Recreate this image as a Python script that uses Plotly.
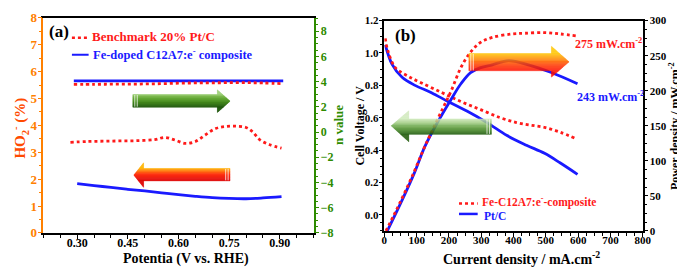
import plotly.graph_objects as go

W, H = 685, 267

# ---------------- data: panel (a) ----------------
pot_n = [0.29, 0.35, 0.40, 0.45, 0.50, 0.55, 0.60, 0.65, 0.70, 0.75, 0.80, 0.85, 0.91]
n_fe = [4.07, 4.07, 4.07, 4.07, 4.07, 4.07, 4.07, 4.07, 4.07, 4.07, 4.07, 4.07, 4.07]
n_pt = [3.78, 3.79, 3.80, 3.80, 3.82, 3.84, 3.88, 3.90, 3.91, 3.92, 3.92, 3.90, 3.84]

pot_ho2_pt = [0.28, 0.33, 0.38, 0.43, 0.48, 0.53, 0.56, 0.59, 0.62, 0.65, 0.68, 0.71, 0.74,
              0.77, 0.80, 0.82, 0.84, 0.87, 0.905]
ho2_pt = [3.37, 3.40, 3.41, 3.42, 3.43, 3.47, 3.55, 3.45, 3.33, 3.40, 3.65, 3.88, 3.96,
          3.97, 3.92, 3.75, 3.47, 3.28, 3.15]

pot_ho2_fe = [0.30, 0.35, 0.40, 0.45, 0.50, 0.55, 0.60, 0.65, 0.70, 0.75, 0.80, 0.85, 0.905]
ho2_fe = [1.83, 1.76, 1.69, 1.62, 1.56, 1.49, 1.42, 1.36, 1.31, 1.28, 1.27, 1.30, 1.35]

pot_ticks = [0.30, 0.45, 0.60, 0.75, 0.90]

# ---------------- data: panel (b) ----------------
cur_v_pt = [3, 24, 55, 95, 146, 197, 257, 318, 380, 440, 496, 545, 598]
volt_pt = [1.05, 0.93, 0.85, 0.80, 0.755, 0.70, 0.64, 0.57, 0.49, 0.43, 0.38, 0.32, 0.25]

cur_v_fe = [3, 10, 34, 75, 115, 176, 237, 298, 359, 409, 450, 496, 545, 593]
volt_fe = [1.09, 1.02, 0.91, 0.855, 0.815, 0.757, 0.70, 0.65, 0.60, 0.57, 0.555, 0.54, 0.51, 0.47]

cur_p_pt = [9, 55, 94, 125, 166, 207, 237, 267, 298, 334, 385, 446, 517, 598]
pow_pt = [0, 44, 84, 120, 156, 188, 210, 226, 233, 237, 243, 237, 226, 210]

cur_p_fe = [5, 50, 90, 120, 145, 176, 207, 237, 267, 298, 334, 395, 435, 496, 545, 598]
pow_fe = [0, 42, 82, 115, 140, 170, 200, 233, 255, 269, 276, 281, 282, 283, 281, 278]

RED = "#FF1A1A"
BLUE = "#1A1AFF"
ORANGE = "#FF8000"
ORANGE_T = "#FF4A00"
GREEN = "#2E8B00"
FONT = "Liberation Serif"


def px(x):
    return x / W


def py(y):
    return 1 - y / H


fig = go.Figure()

# panel (a)
fig.add_trace(go.Scatter(x=pot_n, y=n_fe, mode="lines", yaxis="y2", xaxis="x",
                         line=dict(color=BLUE, width=2.8), showlegend=False))
fig.add_trace(go.Scatter(x=pot_n, y=n_pt, mode="lines", yaxis="y2", xaxis="x",
                         line=dict(color=RED, width=2.8, dash="dot", shape="spline"), showlegend=False))
fig.add_trace(go.Scatter(x=pot_ho2_pt, y=ho2_pt, mode="lines", yaxis="y", xaxis="x",
                         line=dict(color=RED, width=2.8, dash="dot", shape="spline"), showlegend=False))
fig.add_trace(go.Scatter(x=pot_ho2_fe, y=ho2_fe, mode="lines", yaxis="y", xaxis="x",
                         line=dict(color=BLUE, width=2.8, shape="spline"), showlegend=False))

# panel (b)
fig.add_trace(go.Scatter(x=cur_v_pt, y=volt_pt, mode="lines", xaxis="x2", yaxis="y3",
                         line=dict(color=BLUE, width=2.8, shape="spline"), showlegend=False))
fig.add_trace(go.Scatter(x=cur_p_pt, y=pow_pt, mode="lines", xaxis="x2", yaxis="y4",
                         line=dict(color=BLUE, width=2.8, shape="spline"), showlegend=False))
fig.add_trace(go.Scatter(x=cur_v_fe, y=volt_fe, mode="lines", xaxis="x2", yaxis="y3",
                         line=dict(color=RED, width=2.8, dash="dot", shape="spline"), showlegend=False))
fig.add_trace(go.Scatter(x=cur_p_fe, y=pow_fe, mode="lines", xaxis="x2", yaxis="y4",
                         line=dict(color=RED, width=2.8, dash="dot", shape="spline"), showlegend=False))


def tf(color="black", size=12):
    return dict(family=FONT, size=size, color=color, weight="bold")


common = dict(ticks="outside", ticklen=4, tickwidth=1.2, showline=True, linewidth=1.5,
              showgrid=False, zeroline=False)

fig.update_layout(
    width=W, height=H,
    margin=dict(l=0, r=0, t=0, b=0),
    paper_bgcolor="white", plot_bgcolor="white",
    xaxis=dict(domain=[px(33), px(308)], range=[0.2, 1.0], anchor="y",
               tickvals=pot_ticks, ticktext=["%.2f" % v for v in pot_ticks],
               tickcolor="black", ticklabelstandoff=-6,
               minor=dict(dtick=0.05, tick0=0.2, ticklen=3, tickcolor="black", ticks="outside"),
               linecolor="black", mirror=True, tickfont=tf("black", 12), **common),
    yaxis=dict(domain=[py(231), py(4)], range=[0, 8], anchor="x", dtick=1,
               tickcolor=ORANGE, ticklabelstandoff=-2,
               minor=dict(dtick=0.5, ticklen=3, tickcolor=ORANGE, ticks="outside"),
               linecolor=ORANGE, tickfont=tf(ORANGE, 13), **common),
    yaxis2=dict(overlaying="y", side="right", anchor="x", range=[-8, 9.07], dtick=2,
                tickcolor=GREEN, ticklabelstandoff=-1,
                minor=dict(dtick=0.5, ticklen=3, tickcolor=GREEN, ticks="outside"),
                linecolor=GREEN, tickfont=tf(GREEN, 12), **common),
    xaxis2=dict(domain=[px(380), px(643)], range=[0, 800], anchor="y3", dtick=100,
                tickcolor="black", ticklabelstandoff=-6,
                minor=dict(dtick=25, ticklen=3, tickcolor="black", ticks="outside"),
                linecolor="black", mirror=True, tickfont=tf("black", 11), **common),
    yaxis3=dict(domain=[py(229), py(7)], range=[-0.1, 1.2], anchor="x2", dtick=0.2, tick0=0,
                tickformat=".1f", tickcolor="black", ticklabelstandoff=-2,
                minor=dict(dtick=0.05, tick0=0, ticklen=3, tickcolor="black", ticks="outside"),
                linecolor="black", tickfont=tf("black", 11), **common),
    yaxis4=dict(overlaying="y3", side="right", anchor="x2", range=[0, 300], dtick=50,
                tickcolor="black", ticklabelstandoff=-1,
                minor=dict(dtick=12.5, ticklen=3, tickcolor="black", ticks="outside"),
                linecolor="black", tickfont=tf("black", 11), **common),
)

ann = []


def add_text(text, x, y, size, color="black", angle=0, xanchor="center"):
    ann.append(dict(text=text, x=px(x), y=py(y), xref="paper", yref="paper",
                    showarrow=False, textangle=angle, xanchor=xanchor, yanchor="middle",
                    font=dict(family=FONT, size=size, color=color, weight="bold")))


add_text("(a)", 49, 18, 17)
add_text("(b)", 402, 23, 17)
add_text("Benchmark 20% Pt/C", 80, 24, 13, RED, xanchor="left")
add_text("Fe-doped C12A7:e<sup>-</sup> composite", 81, 42, 12.5, BLUE, xanchor="left")
add_text("Fe-C12A7:e<sup>-</sup>-composite", 477, 198, 11.5, RED, xanchor="left")
add_text("Pt/C", 479, 213, 11.5, BLUE, xanchor="left")
add_text("275 mW.cm<sup>-2</sup>", 572, 31, 12, RED, xanchor="left")
add_text("243 mW.cm<sup>-2</sup>", 574, 87, 12, BLUE, xanchor="left")
add_text("Potentia (V vs. RHE)", 178, 259, 14)
add_text("Current density / mA.cm<sup>-2</sup>", 520, 258, 14)
add_text("HO<sub>2</sub><sup>-</sup> (%)", 9, 120, 15, ORANGE_T, angle=-90)
add_text("n value", 334, 117, 13, GREEN, angle=-90)
add_text("Cell Voltage / V", 355, 118, 12, angle=-90)
add_text("Power density / mW.cm<sup>-2</sup>", 676, 118, 12, angle=-90)
fig.update_layout(annotations=ann)

shapes = []
# legend samples
shapes.append(dict(type="line", xref="paper", yref="paper", x0=px(62), x1=px(78), y0=py(25), y1=py(25),
                   line=dict(color=RED, width=2.5, dash="dot")))
shapes.append(dict(type="line", xref="paper", yref="paper", x0=px(62), x1=px(79), y0=py(43), y1=py(43),
                   line=dict(color=BLUE, width=2)))
shapes.append(dict(type="line", xref="paper", yref="paper", x0=px(456), x1=px(475), y0=py(200), y1=py(200),
                   line=dict(color=RED, width=2.5, dash="dot")))
shapes.append(dict(type="line", xref="paper", yref="paper", x0=px(456), x1=px(475), y0=py(211), y1=py(211),
                   line=dict(color=BLUE, width=2.5)))


def hex2rgb(h):
    h = h.lstrip("#")
    return [int(h[i:i + 2], 16) for i in (0, 2, 4)]


def grad(stops, t):
    t = max(0.0, min(1.0, t))
    for (t0, c0), (t1, c1) in zip(stops[:-1], stops[1:]):
        if t0 <= t <= t1:
            f = 0 if t1 == t0 else (t - t0) / (t1 - t0)
            a, b = hex2rgb(c0), hex2rgb(c1)
            return "rgb(%d,%d,%d)" % tuple(round(a[i] + (b[i] - a[i]) * f) for i in range(3))
    return stops[-1][1]


def arrow(tail, hbase, tip, by0, by1, hy0, hy1, yt, stops, opacity=1.0):
    """Draw arrow in pixel coords as gradient bands. tip may be left or right of tail."""
    right = tip > tail
    edges = set([hy0, hy1, by0, by1, yt])
    n = 40
    for i in range(n + 1):
        edges.add(hy0 + (hy1 - hy0) * i / n)
    edges = sorted(edges)

    def xr(y):
        if y <= yt:
            f = (y - hy0) / (yt - hy0)
        else:
            f = (hy1 - y) / (hy1 - yt)
        return hbase + (tip - hbase) * f

    for ya, yb in zip(edges[:-1], edges[1:]):
        ym = (ya + yb) / 2
        left = tail if by0 <= ym <= by1 else hbase
        t = (ym - by0) / (by1 - by0)
        col = grad(stops, t)
        pts = [(left, ya), (xr(ya), ya), (xr(yb), yb), (left, yb)]
        path = "M " + " L ".join("%.4f,%.4f" % (px(x), py(y)) for x, y in pts) + " Z"
        shapes.append(dict(type="path", path=path, xref="paper", yref="paper",
                           fillcolor=col, line=dict(width=0.3, color=col), layer="above", opacity=opacity))
    d = 1 if right else -1
    for off in (2, 4.5):
        shapes.append(dict(type="line", xref="paper", yref="paper",
                           x0=px(tail + d * off), x1=px(tail + d * off), y0=py(by0 + 0.5), y1=py(by1 - 0.5),
                           line=dict(color="rgba(255,255,255,0.75)", width=1), layer="above"))


green_a = [(0, "#9ccf78"), (0.2, "#6cb03a"), (0.55, "#3f8a12"), (1, "#175200")]
red_a = [(0, "#ffb800"), (0.25, "#ff6a00"), (0.5, "#ff2200"), (1, "#e00000")]
orange_b = [(0, "#ffc800"), (0.3, "#ff9000"), (0.65, "#ff4000"), (1, "#ff1000")]
green_b = [(0, "#d4ecc0"), (0.3, "#98c878"), (0.65, "#4c902a"), (1, "#1e5a08")]

arrow(124, 210, 223, 85, 98.3, 80, 104, 92, green_a)
arrow(223, 135, 125, 163, 176, 157, 183, 170, red_a)
arrow(466, 550, 568, 41.7, 60, 34, 66.7, 50.5, orange_b, opacity=0.88)
arrow(489, 405, 387, 110.7, 127, 102, 135, 118, green_b, opacity=0.88)

fig.update_layout(shapes=shapes)
fig.write_html("out.html")
